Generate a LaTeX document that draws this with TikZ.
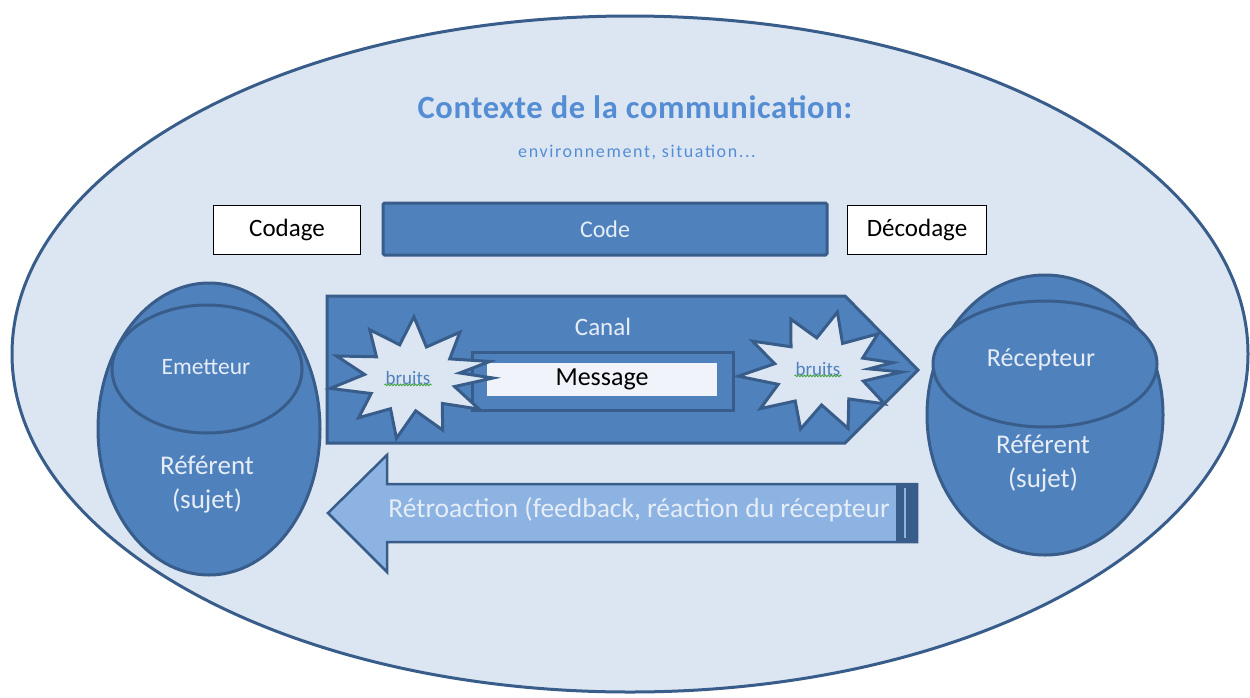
\documentclass[tikz,border=0pt]{standalone}
\usepackage{fontspec}
\setmainfont{Carlito}
\usetikzlibrary{shapes.geometric,decorations.pathmorphing}
\definecolor{ctxfill}{HTML}{DCE6F2}
\definecolor{blockblue}{HTML}{4F81BD}
\definecolor{edgeblue}{HTML}{385D8A}
\definecolor{paletext}{HTML}{E6EDF7}
\definecolor{fbblue}{HTML}{8DB3E2}
\definecolor{titleblue}{HTML}{548DD4}
\definecolor{msgfill}{HTML}{F0F4FA}
\definecolor{spellgreen}{HTML}{3FA03F}

\tikzset{
  fs/.style={font=\fontsize{#1}{#1}\selectfont},
  blob/.style={ellipse, draw=edgeblue, fill=blockblue, line width=3pt, inner sep=0pt},
  plainbox/.style={draw=black, fill=white, line width=1pt, minimum width=147pt, minimum height=49pt, inner sep=0pt},
  blocktxt/.style={text=paletext},
  burst/.style={draw=edgeblue, fill=ctxfill, line width=3pt, line join=miter},
  darkedge/.style={draw=edgeblue, line width=3pt},
}

\begin{document}
\begin{tikzpicture}[x=1pt,y=-1pt]
\useasboundingbox (0,0) rectangle (1250,697);
\fill[white] (0,0) rectangle (1250,697);

% context of the communication
\node[ellipse, draw=edgeblue, fill=ctxfill, line width=3pt, inner sep=0pt,
      minimum width=1236pt, minimum height=676pt] (ctx) at (630,354) {};
\node[text=titleblue, font=\fontsize{32.5}{33}\selectfont\bfseries\addfontfeature{LetterSpace=2}] (title) at (635,107) {Contexte de la communication:};
\node[text=titleblue, font=\fontsize{18}{18}\selectfont\addfontfeature{LetterSpace=9}] (sub) at (637,152) {environnement, situation...};

% coding row
\node[plainbox, minimum width=147pt] (codage) at (287,230) {};
\node[fs=25] at (codage) {Codage};
\node[draw=edgeblue, fill=blockblue, line width=3pt, rounded corners=1.5pt,
      minimum width=444pt, minimum height=52pt, inner sep=0pt] (code) at (605,229) {};
\node[fs=24, blocktxt] at (code) {Code};
\node[plainbox, minimum width=139pt] (decodage) at (917,230) {};
\node[fs=25] at (decodage) {Décodage};

% sender
\node[blob, minimum width=222pt, minimum height=292pt] (sender) at (209,429) {};
\node[blob, minimum width=190pt, minimum height=128pt] (senderin) at (207,369) {};
\node[fs=23.5, blocktxt] (emet) at (206,367) {Emetteur};
\node[blocktxt, align=center, font=\fontsize{27}{34}\selectfont] (refL) at (207,485) {Référent\\(sujet)};

% receiver
\node[blob, minimum width=236pt, minimum height=280pt] (receiver) at (1045,415) {};
\node[blob, minimum width=224pt, minimum height=126pt] (receiverin) at (1045,364) {};
\node[fs=26, blocktxt] (recep) at (1041,360) {Récepteur};
\node[blocktxt, align=center, font=\fontsize{27}{34}\selectfont] (refR) at (1043,464) {Référent\\(sujet)};

% channel
\coordinate (chA) at (327,296);
\coordinate (chB) at (845,296);
\coordinate (chTip) at (918,370);
\coordinate (chC) at (845,443);
\coordinate (chD) at (327,443);
\filldraw[darkedge, fill=blockblue] (chA) -- (chB) -- (chTip) -- (chC) -- (chD) -- cycle;
\node[fs=25, blocktxt] (canal) at (603,327) {Canal};

% message
\node[darkedge, fill=blockblue, minimum width=261pt, minimum height=58pt, inner sep=0pt] (msgframe) at (602.5,381) {};
\node[fill=msgfill, minimum width=230pt, minimum height=33pt, inner sep=0pt] (msgbox) at (602,379.5) {};
\node[fs=26, text=black] (msg) at (msgbox) {Message};

% noise bursts
\begin{scope}[shift={(411,378)}, xscale=82, yscale=60]
  \filldraw[burst] (0:1.0) -- (15:0.55) -- (32:0.98) -- (48:0.57) -- (66:0.95) -- (84:0.55)
    -- (100:1.02) -- (116:0.57) -- (134:0.92) -- (152:0.55) -- (170:1.0) -- (186:0.57)
    -- (202:0.98) -- (220:0.55) -- (238:0.95) -- (256:0.57) -- (272:1.02) -- (290:0.55)
    -- (308:0.97) -- (326:0.57) -- (344:1.0) -- (352:0.6) -- cycle;
\end{scope}
\begin{scope}[shift={(820,372)}, xscale=82, yscale=60]
  \filldraw[burst] (0:1.0) -- (16:0.55) -- (34:0.95) -- (52:0.57) -- (70:1.0) -- (88:0.55)
    -- (104:0.98) -- (122:0.57) -- (140:0.95) -- (158:0.55) -- (176:1.0) -- (194:0.57)
    -- (212:0.97) -- (230:0.55) -- (248:0.95) -- (266:0.57) -- (282:1.02) -- (300:0.55)
    -- (318:0.95) -- (336:0.57) -- (350:0.9) -- (355:0.6) -- cycle;
\end{scope}
\node[fs=19, text=blockblue, inner sep=1pt] (noiseL) at (408,378) {bruits};
\node[fs=19, text=blockblue, inner sep=1pt] (noiseR) at (818,369) {bruits};
\draw[spellgreen, line width=0.8pt, decorate, decoration={snake, amplitude=0.9pt, segment length=3pt}]
  ([yshift=1pt]noiseL.south west) -- ([yshift=1pt]noiseL.south east);
\draw[spellgreen, line width=0.8pt, decorate, decoration={snake, amplitude=0.9pt, segment length=3pt}]
  ([yshift=1pt]noiseR.south west) -- ([yshift=1pt]noiseR.south east);

% feedback arrow
\coordinate (fbTip) at (328,513);
\coordinate (fbHeadTop) at (387,455);
\coordinate (fbHeadBot) at (387,572);
\coordinate (fbTailTop) at (917,484);
\coordinate (fbTailBot) at (917,542);
\filldraw[darkedge, line width=2.5pt, fill=fbblue, line join=miter]
  (fbTip) -- (fbHeadTop) -- (387,484) -- (fbTailTop) -- (fbTailBot) -- (387,542) -- (fbHeadBot) -- cycle;
\fill[edgeblue] (896,484) rectangle (917,542);
\draw[fbblue, line width=1.3pt] (905,488) -- (905,538);
\node[fs=27.5, text=paletext] (fbtxt) at (639,510) {Rétroaction (feedback, réaction du récepteur};
\end{tikzpicture}
\end{document}
